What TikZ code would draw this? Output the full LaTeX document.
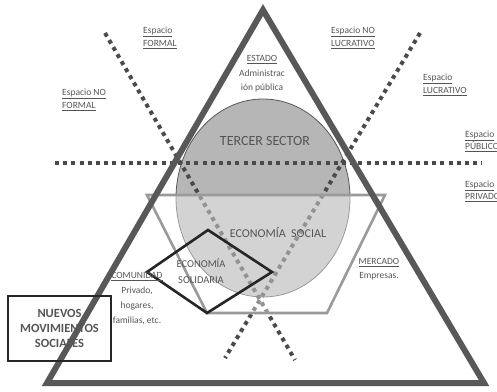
\documentclass[tikz,border=0pt]{standalone}
\usepackage{fontspec}
\setmainfont{Carlito}
\usetikzlibrary{calc}
\definecolor{tridark}{HTML}{585858}
\definecolor{dotdark}{HTML}{4A4A4A}
\definecolor{hexgray}{HTML}{9A9A9A}
\definecolor{circfill}{HTML}{B6B6B6}
\definecolor{txtgray}{HTML}{555555}

\begin{document}
\begin{tikzpicture}[x=1pt,y=-1pt,line join=miter,
    dotline/.style={line width=4pt,dash pattern=on 4pt off 4.2pt,dotdark},
    lbl/.style={align=left,anchor=west,inner sep=0pt,text=txtgray,font=\fontsize{9.5}{13}\selectfont},
    inlbl/.style={align=center,inner sep=0pt,text=txtgray,font=\fontsize{9.5}{14.5}\selectfont}]
    \useasboundingbox (0,0) rectangle (497,391);

    % tercer sector
    \draw [fill=circfill,draw=tridark,line width=0.8pt] (263,198) ellipse [x radius=87pt,y radius=99pt];

    % dividing lines
    \coordinate (hl) at (55,163);
    \coordinate (hr) at (482,163);
    \coordinate (fa) at (105,33);
    \coordinate (fb) at (295,360);
    \coordinate (la) at (420,33);
    \coordinate (lb) at (225,358);
    \draw [dotline] (hl) -- (hr);
    \draw [dotline] (fa) -- (fb);
    \draw [dotline] (la) -- (lb);

    % economia social
    \draw [draw=hexgray,line width=2.6pt,fill=white,fill opacity=.4]
        (147,195) -- (385,195) -- (327,313) -- (207,313) -- cycle;

    % big triangle
    \coordinate (T) at (263,10);
    \coordinate (L) at (47,383);
    \coordinate (R) at (484,383);
    \draw [tridark,line width=6pt] (T) -- (R) -- (L) -- cycle;

    % economia solidaria
    \draw [black!85,line width=2.6pt] (147,272) -- (208,230) -- (272,272) -- (207,313) -- cycle;
    \node (sol) [inlbl,font=\fontsize{10.5}{16.5}\selectfont] at (201,271) {ECONOMÍA\\SOLIDARIA};

    \node (nuevos) [draw=black!85,line width=2.6pt,minimum width=103pt,minimum height=65pt,
        align=center,inner sep=0pt,text=txtgray,font=\bfseries\fontsize{12.5}{15}\selectfont] at (59.5,328.5)
        {NUEVOS\\MOVIMIENTOS\\SOCIALES};

    \node (tercer) [inlbl,font=\fontsize{14}{16}\selectfont] at (265,141) {TERCER SECTOR};
    \node (esoc) [inlbl,font=\fontsize{12}{14}\selectfont] at (278,233) {ECONOMÍA\ \ SOCIAL};

    \node (estado) [inlbl] at (262,74) {\underline{ESTADO}\\Administrac\\ión pública};
    \node (comun) [inlbl,font=\fontsize{9.5}{15}\selectfont] at (137,299) {\underline{COMUNIDAD}\\Privado,\\hogares,\\familias, etc.};
    \node (merc) [inlbl,font=\fontsize{9.5}{14}\selectfont] at (379,269) {\underline{MERCADO}\\Empresas.};

    % espacios
    \node (formal) [lbl] at (143,38) {\underline{Espacio}\\\underline{FORMAL}};
    \node (noformal) [lbl] at (62,100) {\underline{Espacio NO}\\\underline{FORMAL}};
    \node (nolucr) [lbl] at (331,38) {\underline{Espacio NO}\\\underline{LUCRATIVO}};
    \node (lucr) [lbl] at (423,85) {\underline{Espacio}\\\underline{LUCRATIVO}};
    \node (publ) [lbl,font=\fontsize{9.5}{12}\selectfont] at (465,141) {\underline{Espacio}\\\underline{PÚBLICO}};
    \node (priv) [lbl,font=\fontsize{9.5}{12}\selectfont] at (465,191) {\underline{Espacio}\\\underline{PRIVADO}};
\end{tikzpicture}
\end{document}
